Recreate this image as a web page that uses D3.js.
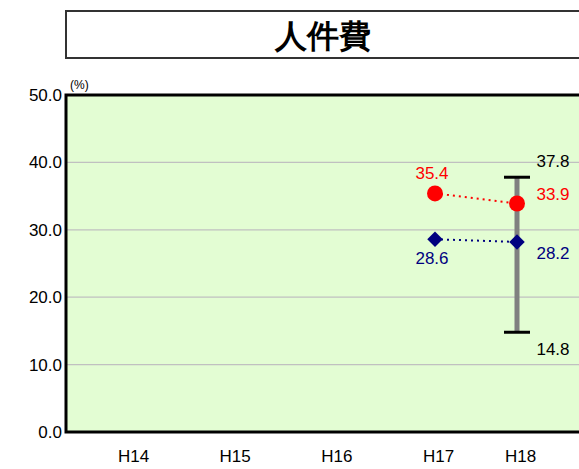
<!DOCTYPE html>
<html>
<head>
<meta charset="utf-8">
<script src="https://cdn.jsdelivr.net/npm/d3@7"></script>
<style>
  html, body { margin: 0; padding: 0; background: #ffffff; }
  svg { display: block; }
  text { font-family: "Liberation Sans", Arial, sans-serif; }
</style>
</head>
<body>
<div id="chart"></div>
<script>
// ---- data ----
const title = "人件費";
const unitLabel = "(%)";
const categories = ["H14", "H15", "H16", "H17", "H18"];
const seriesRed = [null, null, null, 35.4, 33.9];
const seriesBlue = [null, null, null, 28.6, 28.2];
const rangeCategory = "H18";
const rangeMax = 37.8;
const rangeMin = 14.8;
const yTicks = [0, 10, 20, 30, 40, 50];

// ---- layout ----
const W = 579, H = 469;
const plot = { left: 66, top: 95, right: 600, bottom: 432 };
const FS = 17;

const svg = d3.select("#chart").append("svg").attr("width", W).attr("height", H);

// title box
svg.append("rect").attr("x", 66).attr("y", 11).attr("width", 560).attr("height", 47)
  .attr("fill", "#fff").attr("stroke", "#333").attr("stroke-width", 2);
svg.append("text").attr("x", 323).attr("y", 47).attr("text-anchor", "middle")
  .attr("font-family", "'Noto Sans CJK JP', sans-serif")
  .attr("font-weight", "900").attr("font-size", 32).attr("fill", "#000").text(title);

const y = d3.scaleLinear().domain([0, 50]).range([plot.bottom, plot.top]);
// category positions (piecewise linear scale over category index)
const xi = d3.scaleLinear().domain([0, 3, 4]).range([130, 435, 517]);
const x = c => xi(categories.indexOf(c));

// plot background
svg.append("rect").attr("x", plot.left).attr("y", plot.top)
  .attr("width", plot.right - plot.left).attr("height", plot.bottom - plot.top)
  .attr("fill", "#e3fdd3");

// gridlines
svg.append("g").selectAll("line").data(yTicks.filter(t => t > 0 && t < 50)).join("line")
  .attr("x1", plot.left).attr("x2", plot.right)
  .attr("y1", d => y(d)).attr("y2", d => y(d))
  .attr("stroke", "#c0c0c0").attr("stroke-width", 1.2);

// border
svg.append("rect").attr("x", plot.left).attr("y", plot.top)
  .attr("width", plot.right - plot.left).attr("height", plot.bottom - plot.top)
  .attr("fill", "none").attr("stroke", "#000").attr("stroke-width", 3);

// y axis labels
const yAxis = d3.axisLeft(y).tickValues(yTicks).tickFormat(d3.format(".1f")).tickSize(0).tickPadding(4);
const gy = svg.append("g").attr("transform", `translate(${plot.left},0)`).call(yAxis);
gy.select(".domain").remove();
gy.selectAll("text").attr("font-size", FS).attr("fill", "#000")
  .attr("font-family", "'Liberation Sans', Arial, sans-serif");

svg.append("text").attr("x", 70).attr("y", 89).attr("font-size", 12).attr("fill", "#000").text(unitLabel);

// x axis labels
const xAxis = d3.axisBottom(d3.scaleOrdinal().domain(categories).range(categories.map(c => x(c) + 3)))
  .tickSize(0).tickPadding(18);
const gx = svg.append("g").attr("transform", `translate(0,${plot.bottom})`).call(xAxis);
gx.select(".domain").remove();
gx.selectAll("text").attr("font-size", FS).attr("fill", "#000")
  .attr("font-family", "'Liberation Sans', Arial, sans-serif");

// range bar
const rx = x(rangeCategory);
svg.append("line").attr("x1", rx).attr("x2", rx).attr("y1", y(rangeMax)).attr("y2", y(rangeMin))
  .attr("stroke", "#808080").attr("stroke-width", 5);
[rangeMax, rangeMin].forEach(v => {
  svg.append("line").attr("x1", rx - 13).attr("x2", rx + 13).attr("y1", y(v)).attr("y2", y(v))
    .attr("stroke", "#000").attr("stroke-width", 3);
});
svg.append("text").attr("x", rx + 36).attr("y", y(rangeMax) - 10).attr("text-anchor", "middle")
  .attr("font-size", FS).attr("fill", "#000").text(rangeMax.toFixed(1));
svg.append("text").attr("x", rx + 36).attr("y", y(rangeMin) + 23).attr("text-anchor", "middle")
  .attr("font-size", FS).attr("fill", "#000").text(rangeMin.toFixed(1));

// series
const red = "#ff0000", blue = "#000080";
const redPts = categories.map((c, i) => ({ c, v: seriesRed[i] })).filter(d => d.v != null);
const bluePts = categories.map((c, i) => ({ c, v: seriesBlue[i] })).filter(d => d.v != null);
const line = d3.line().x(d => x(d.c)).y(d => y(d.v));

svg.append("path").datum(redPts).attr("d", line).attr("fill", "none")
  .attr("stroke", red).attr("stroke-width", 2).attr("stroke-dasharray", "2,4");
svg.append("path").datum(bluePts).attr("d", line).attr("fill", "none")
  .attr("stroke", blue).attr("stroke-width", 2).attr("stroke-dasharray", "2,4");

svg.append("g").selectAll("circle").data(redPts).join("circle")
  .attr("cx", d => x(d.c)).attr("cy", d => y(d.v)).attr("r", 8).attr("fill", red);
svg.append("g").selectAll("path").data(bluePts).join("path")
  .attr("d", d3.symbol(d3.symbolSquare, 120))
  .attr("transform", d => `translate(${x(d.c)},${y(d.v)}) rotate(45)`).attr("fill", blue);

// value labels
redPts.forEach((d, i) => {
  const last = i === redPts.length - 1;
  svg.append("text")
    .attr("x", last ? x(d.c) + 36 : x(d.c) - 3)
    .attr("y", last ? y(d.v) - 4 : y(d.v) - 14)
    .attr("text-anchor", "middle").attr("font-size", FS).attr("fill", red).text(d.v.toFixed(1));
});
bluePts.forEach((d, i) => {
  const last = i === bluePts.length - 1;
  svg.append("text")
    .attr("x", last ? x(d.c) + 36 : x(d.c) - 3)
    .attr("y", last ? y(d.v) + 17 : y(d.v) + 25)
    .attr("text-anchor", "middle").attr("font-size", FS).attr("fill", blue).text(d.v.toFixed(1));
});
</script>
</body>
</html>
